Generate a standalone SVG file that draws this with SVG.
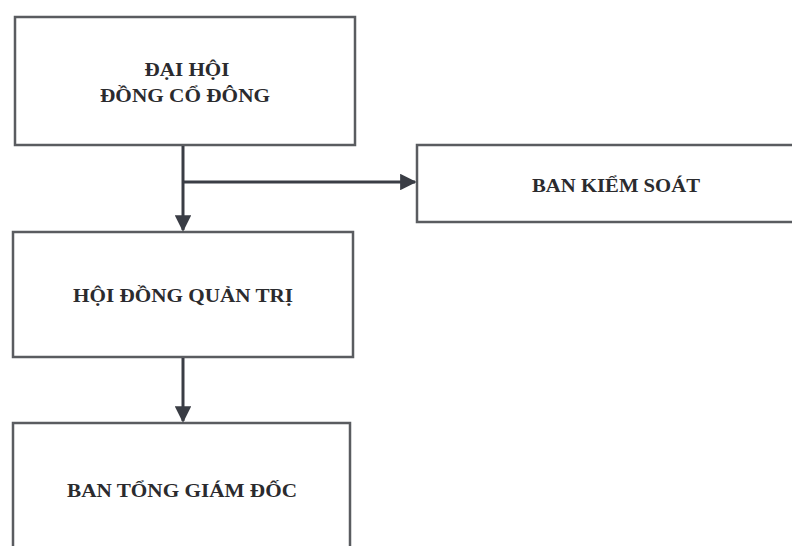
<svg xmlns="http://www.w3.org/2000/svg" width="792" height="546" viewBox="0 0 792 546">
<defs>
<marker id="ah" viewBox="0 0 10 10" refX="9" refY="5" markerWidth="5.5" markerHeight="5.5" orient="auto" markerUnits="strokeWidth">
<path d="M0,0 L10,5 L0,10 Z" fill="#3a3d45"/>
</marker>
<style>
.box{fill:#fff;stroke:#5a5c60;stroke-width:2.5}
.lbl{font-family:"Liberation Serif","Times New Roman",serif;font-weight:bold;font-size:19px;fill:#2b2b2e;text-anchor:middle}
.con{stroke:#3a3d45;stroke-width:3;fill:none}
</style>
</defs>
<rect width="792" height="546" fill="#fff"/>
<g id="dhdcd">
<rect class="box" x="15" y="17" width="340" height="128"/>
<text class="lbl" x="187" y="76" textLength="85" lengthAdjust="spacingAndGlyphs">ĐẠI HỘI</text>
<text class="lbl" x="185" y="102" textLength="170" lengthAdjust="spacingAndGlyphs">ĐỒNG CỔ ĐÔNG</text>
</g>
<g id="bks">
<rect class="box" x="417" y="145" width="380" height="77"/>
<text class="lbl" x="616" y="192" textLength="168" lengthAdjust="spacingAndGlyphs">BAN KIỂM SOÁT</text>
</g>
<g id="hdqt">
<rect class="box" x="13" y="232" width="340" height="125"/>
<text class="lbl" x="183" y="302" textLength="220" lengthAdjust="spacingAndGlyphs">HỘI ĐỒNG QUẢN TRỊ</text>
</g>
<g id="btgd">
<rect class="box" x="13" y="423" width="337" height="140"/>
<text class="lbl" x="182" y="497" textLength="230" lengthAdjust="spacingAndGlyphs">BAN TỔNG GIÁM ĐỐC</text>
</g>
<g id="connectors">
<path class="con" d="M183,146 L183,230" marker-end="url(#ah)"/>
<path class="con" d="M183,182 L415,182" marker-end="url(#ah)"/>
<path class="con" d="M183,358 L183,421" marker-end="url(#ah)"/>
</g>
</svg>
